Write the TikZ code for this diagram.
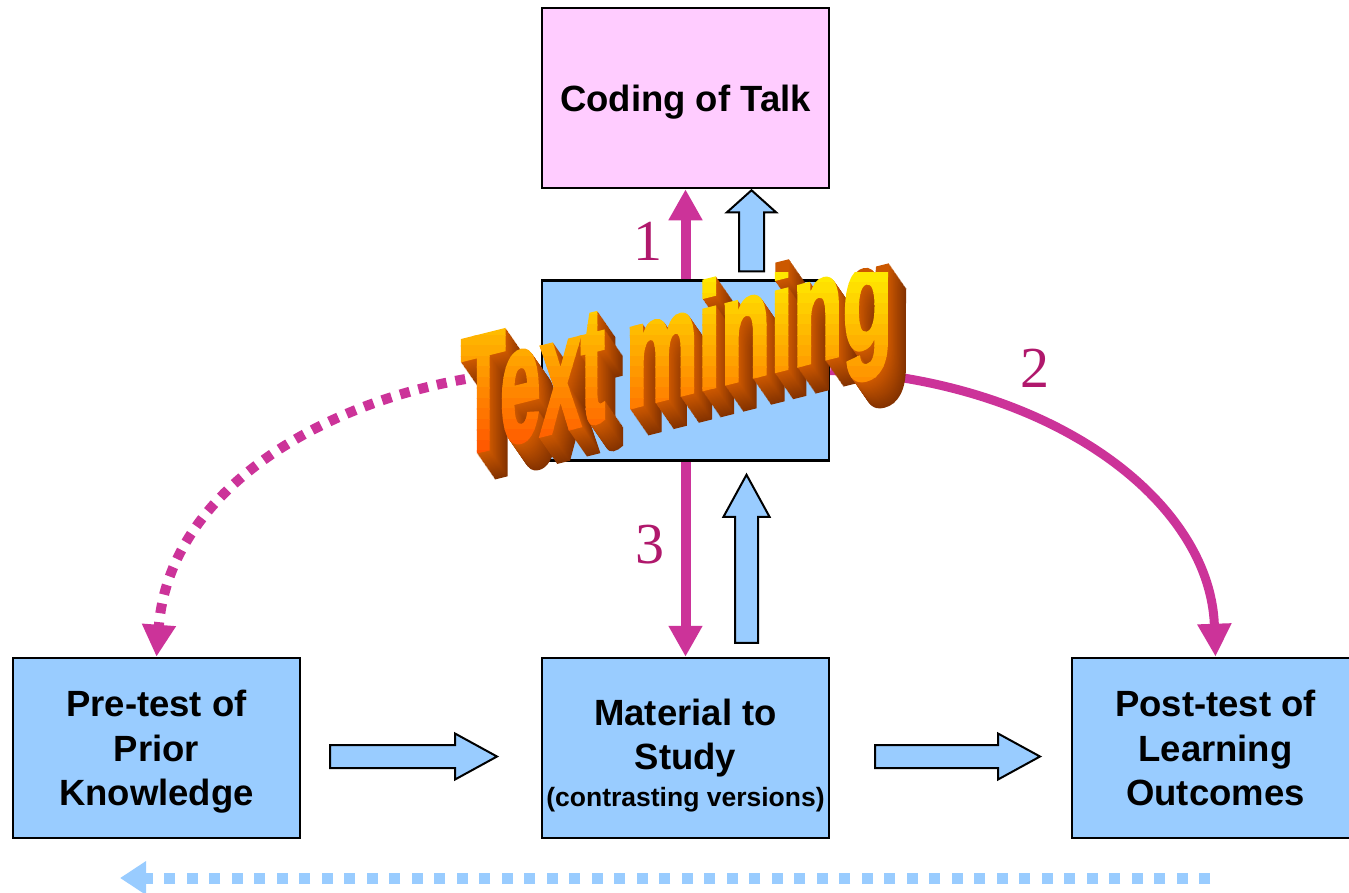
\documentclass[tikz,border=0pt]{standalone}
\usepackage{fontspec}
\setmainfont{Liberation Sans}
\newfontfamily\numfont{Liberation Serif}
\newfontfamily\wafont[FakeBold=3]{Liberation Sans Bold}
\usetikzlibrary{arrows.meta,calc}
\definecolor{boxblue}{HTML}{99CCFF}
\definecolor{boxpink}{HTML}{FFCCFF}
\definecolor{mag}{HTML}{CC3399}
\definecolor{numcol}{HTML}{B0186C}
\definecolor{extF}{HTML}{CC5800}
\definecolor{extB}{HTML}{843200}
\newcommand\wa[3]{\scalebox{#3}[1]{\wafont\fontsize{#2}{#2}\selectfont #1}}
\newcommand\blockarr[6]{%
  \begin{scope}[shift={#1}, rotate=#2]
  \draw[blk] (0,-#5) -- (#3-#4,-#5) -- (#3-#4,-#6) -- (#3,0) -- (#3-#4,#6) -- (#3-#4,#5) -- (0,#5) -- cycle;
  \end{scope}}
\tikzset{
  blk/.style={draw=black, line width=2pt, fill=boxblue, line join=miter},
  box/.style={draw=black, line width=2.5pt, minimum width=287pt, minimum height=180pt, inner sep=0pt, align=center, text depth=0pt, font=\bfseries\fontsize{36.5}{44.5}\selectfont},
  num/.style={text=numcol, inner sep=0pt, font=\numfont\fontsize{58}{58}\selectfont},
  magarrow/.style={draw=mag, line width=10pt, -{Triangle[width=32pt,length=31pt]}},
  waface/.style={inner sep=0pt, anchor=base, yslant=0.25}
}
\begin{document}
\begin{tikzpicture}[x=1pt,y=-1pt]
\useasboundingbox (0,0) rectangle (1349,892);
\clip (0,0) rectangle (1349,892);
\fill[white] (0,0) rectangle (1349,892);
% boxes
\node[box, fill=boxpink] (talk) at (685.5,98) {Coding of Talk};
\node[box, fill=boxblue] (tm) at (685.5,370.5) {};
\node[box, fill=boxblue] (pre) at (156.5,748) {Pre-test of\\Prior\\Knowledge};
\node[box, fill=boxblue] (mat) at (685.5,748) {\rule{0pt}{35pt}Material to\\Study\\[-8pt]{\fontsize{26.5}{34}\selectfont (contrasting versions)}};
\node[box, fill=boxblue] (post) at (1215.5,748) {Post-test of\\Learning\\Outcomes};
% magenta arrows
\draw[magarrow] (tm.north) -- (talk.south);
\draw[magarrow] (tm.south) -- (mat.north);
\draw[draw=mag, line width=9pt, -{Triangle[width=32pt,length=33pt]}] (tm.east) .. controls (1050,380) and (1210,500) .. (post.north);
\draw[draw=mag, line width=10pt, dash pattern=on 10pt off 9pt, -{Triangle[width=32pt,length=32pt]}] (tm.west) .. controls (350,380) and (170,480) .. (pre.north);
% block arrows
\blockarr{($(tm.north)+(66,-8)$)}{90}{81}{22}{12.5}{24.5}
\blockarr{($(mat.north)+(61,-14)$)}{90}{168}{42}{11.5}{23}
\blockarr{($(pre.east)+(28.75,8.5)$)}{0}{167}{42}{11.5}{23}
\blockarr{($(mat.east)+(44.75,8.5)$)}{0}{165}{42}{11.5}{23}
% bottom dashed arrow
\coordinate (bstart) at (1210,878);
\coordinate (bend) at (120,878);
\draw[draw=boxblue, line width=11pt, dash pattern=on 11pt off 11.5pt, -{Triangle[width=32pt,length=26pt]}] (bstart) -- (bend);
% numbers
\node[num] (n1) at (648,241) {1};
\node[num] (n2) at (1035,368) {2};
\node[num] (n3) at (650,545) {3};
% word art: extrusion
\coordinate (wtext) at (533,437);
\coordinate (wmin) at (759,375);
\foreach \i in {26,25,...,1}{
  \pgfmathsetmacro\pct{100*(26-\i)/25}
  \node[text=extF!\pct!extB, waface] at ($(wtext)+(\i*18/26, \i)$) {\wa{Text}{165}{0.44}};
  \node[text=extF!\pct!extB, waface] at ($(wmin)+(\i*18/26, \i)$) {\wa{mining}{148}{0.55}};
}
% word art: front face with banded gradient
\foreach \k in {0,...,19}{
  \pgfmathsetmacro\ya{272+\k*10.5}
  \pgfmathsetmacro\yb{\ya+11}
  \pgfmathtruncatemacro\gg{232-168*\k/19}
  \definecolor{bandcol}{RGB}{255,\gg,0}
  \begin{scope}
    \clip (400,\ya) rectangle (960,\yb);
    \node[text=bandcol, waface] at (wtext) {\wa{Text}{165}{0.44}};
    \node[text=bandcol, waface] at (wmin) {\wa{mining}{148}{0.55}};
  \end{scope}
}
\end{tikzpicture}
\end{document}
